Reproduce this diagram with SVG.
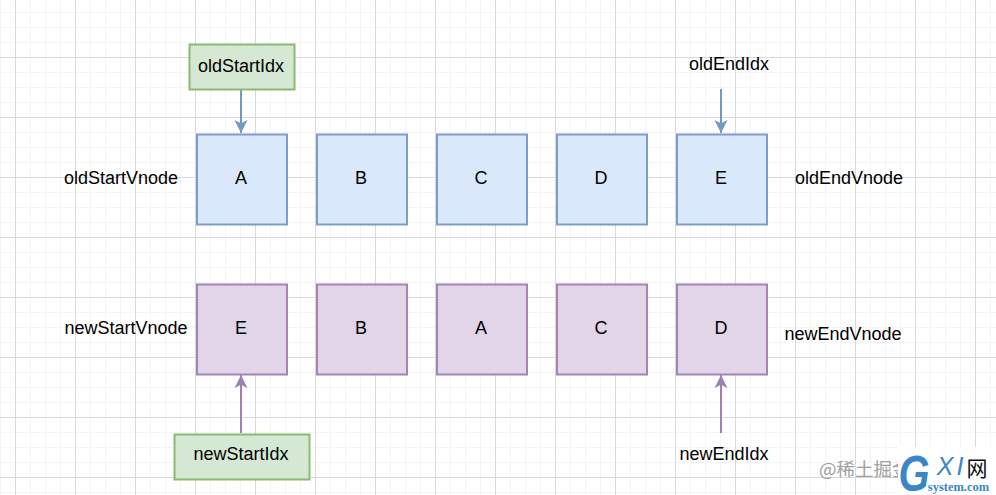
<svg xmlns="http://www.w3.org/2000/svg" width="996" height="495" viewBox="0 0 996 495">
<defs>
<pattern id="gridMinor" width="15" height="15" patternUnits="userSpaceOnUse" x="0" y="-3">
<path d="M0.500 0V15M0 0.500H15" fill="none" stroke="#f4f4f4" stroke-width="1"/>
</pattern>
<pattern id="gridMajor" width="60" height="60" patternUnits="userSpaceOnUse" x="15" y="-3">
<path d="M0.500 0V60M0 0.500H60" fill="none" stroke="#d9d9d9" stroke-width="1"/>
</pattern>
<marker id="arrowBlue" markerUnits="userSpaceOnUse" markerWidth="14" markerHeight="14" refX="13" refY="7" orient="auto">
<path d="M0 0.500L13 7L0 13.500L3.200 7Z" fill="#7696c6"/>
</marker>
<marker id="arrowPurple" markerUnits="userSpaceOnUse" markerWidth="14" markerHeight="14" refX="13" refY="7" orient="auto">
<path d="M0 0.500L13 7L0 13.500L3.200 7Z" fill="#a080b0"/>
</marker>
</defs>
<style>
text{font-family:"Liberation Sans",Arial,sans-serif;font-size:18px;fill:#000;text-anchor:middle;dominant-baseline:central}
.blue{fill:#dae8fc;stroke:#7c9cca;stroke-width:2}
.purple{fill:#e1d5e7;stroke:#a584b5;stroke-width:2}
.green{fill:#d5e8d4;stroke:#8aba70;stroke-width:2}
.edge-b{fill:none;stroke:#7696c6;stroke-width:2;marker-end:url(#arrowBlue)}
.edge-p{fill:none;stroke:#a080b0;stroke-width:2;marker-end:url(#arrowPurple)}
</style>
<rect width="996" height="495" fill="#fff"/>
<rect width="996" height="495" fill="url(#gridMinor)"/>
<rect width="996" height="495" fill="url(#gridMajor)"/>
<g id="connectors">
<path class="edge-b" d="M241 90V133"/>
<path class="edge-b" d="M721 89V133"/>
<path class="edge-p" d="M241 433V375"/>
<path class="edge-p" d="M721 433V375"/>
</g>
<g id="node-oldStartIdx"><rect class="green" x="189.500" y="44.500" width="105" height="45"/><text x="241" y="66">oldStartIdx</text></g>
<g id="node-oldEndIdx"><text x="729" y="64">oldEndIdx</text></g>
<g id="node-oldStartVnode"><text x="121" y="178">oldStartVnode</text></g>
<g id="node-oldEndVnode"><text x="849" y="178">oldEndVnode</text></g>
<g id="node-newStartVnode"><text x="126" y="328">newStartVnode</text></g>
<g id="node-newEndVnode"><text x="843" y="334">newEndVnode</text></g>
<g id="node-newStartIdx"><rect class="green" x="174.500" y="434.500" width="135" height="45"/><text x="241" y="454">newStartIdx</text></g>
<g id="node-newEndIdx"><text x="724" y="454">newEndIdx</text></g>
<g id="node-old-a"><rect class="blue" x="197" y="134.500" width="90" height="90"/><text x="241" y="178">A</text></g>
<g id="node-old-b"><rect class="blue" x="317" y="134.500" width="90" height="90"/><text x="361" y="178">B</text></g>
<g id="node-old-c"><rect class="blue" x="437" y="134.500" width="90" height="90"/><text x="481" y="178">C</text></g>
<g id="node-old-d"><rect class="blue" x="557" y="134.500" width="90" height="90"/><text x="601" y="178">D</text></g>
<g id="node-old-e"><rect class="blue" x="677" y="134.500" width="90" height="90"/><text x="721" y="178">E</text></g>
<g id="node-new-e"><rect class="purple" x="197" y="284.500" width="90" height="90"/><text x="241" y="328">E</text></g>
<g id="node-new-b"><rect class="purple" x="317" y="284.500" width="90" height="90"/><text x="361" y="328">B</text></g>
<g id="node-new-a"><rect class="purple" x="437" y="284.500" width="90" height="90"/><text x="481" y="328">A</text></g>
<g id="node-new-c"><rect class="purple" x="557" y="284.500" width="90" height="90"/><text x="601" y="328">C</text></g>
<g id="node-new-d"><rect class="purple" x="677" y="284.500" width="90" height="90"/><text x="721" y="328">D</text></g>
<text x="819" y="468" style="font-family:'Noto Sans CJK SC',sans-serif;font-size:18.500px;fill:#a0a0a0;text-anchor:start">@稀土掘金</text>
<rect x="898" y="447" width="98" height="48" fill="#fff"/>
<text transform="translate(914 473.500) scale(1.05 1.3)" x="0" y="0" style="font-style:italic;font-weight:700;font-size:38px;fill:#3a87c8">G</text>
<text x="945" y="466" style="font-style:italic;font-size:25px;fill:#3a87c8">X</text>
<text x="960" y="466" style="font-style:italic;font-size:25px;fill:#3a87c8">I</text>
<text x="977" y="467" style="font-family:'Noto Sans CJK SC',sans-serif;font-size:21px;fill:#111">网</text>
<text x="958.500" y="487" style="font-family:'Liberation Serif',serif;font-weight:700;font-size:12.500px;fill:#3a87c8">system.com</text>
</svg>
